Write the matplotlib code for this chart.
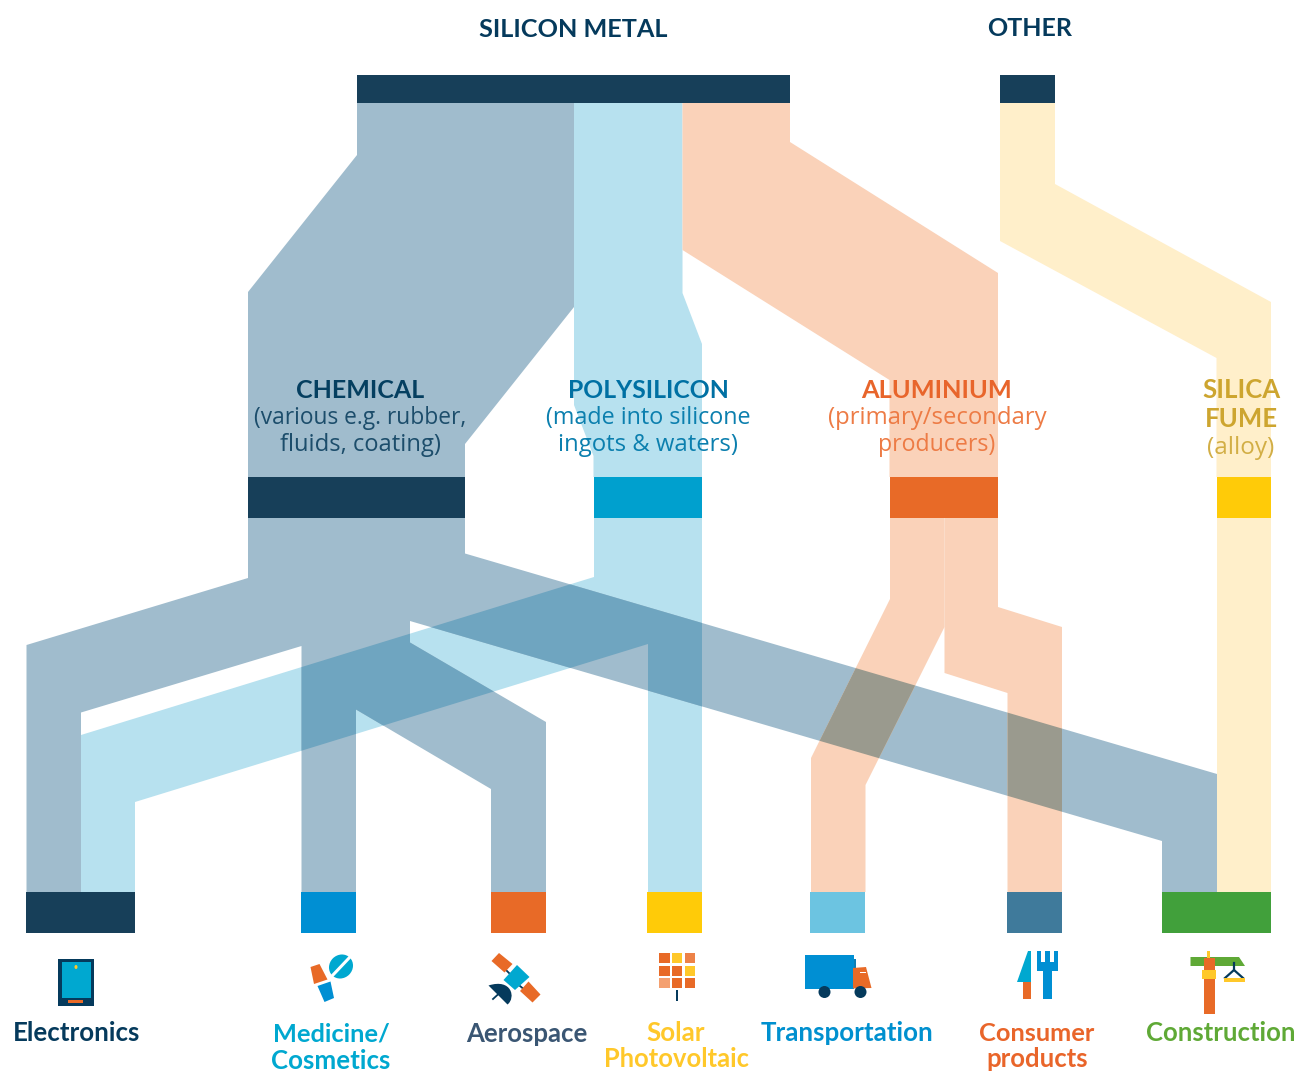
"""
Silicon flow diagram: sources, intermediate uses and end markets.
Bands are drawn in pixel coordinates on a full-figure axes, y pointing down.
"""

import matplotlib
matplotlib.use("Agg")
import matplotlib.pyplot as plt
from matplotlib.patches import Polygon, Rectangle, Circle, Ellipse, PathPatch
from matplotlib.path import Path

NAVY = "#173F59"
DARK = "#053A5C"
CYAN = "#00A8D0"
BLUE = "#008FD3"
ORANGE = "#E86A27"
YELLOW = "#FFC82A"
GREEN = "#5FA936"

# band colours
CHEM_BAND = "#A0BCCD"
POLY_BAND = "#B7E1EF"
ALU_BAND = "#FAD2B9"
FUME_BAND = "#FFEFCA"
CHEM_POLY = "#6FA5C0"
CHEM_ALU = "#9A9A8E"

# (left, right, colour) of each node, grouped by row
top_row = [(357, 790, NAVY), (1000, 1055, NAVY)]
mid_row = [(248, 465, NAVY), (593.5, 702, "#00A0CE"), (889.5, 998, ORANGE), (1216.5, 1271, "#FFCB08")]
end_row = [(26, 135, NAVY), (301, 356, "#008FD3"), (491, 546, ORANGE), (647, 702, "#FFCB08"),
           (810, 865, "#6CC4E1"), (1007, 1062, "#3F7A9B"), (1162, 1271, "#41A03B")]

# bands between the rows
chem_upper = [(357, 103), (574, 103), (574, 307), (465, 444), (465, 477), (248, 477), (248, 292), (357, 155)]
poly_upper = [(574, 103), (682.5, 103), (682.5, 293), (702, 344), (702, 477), (593.5, 477), (593.5, 456), (574, 405)]
alu_upper = [(682.5, 103), (790, 103), (790, 142), (998, 273), (998, 477), (889.5, 477), (889.5, 380), (682.5, 250)]
fume_upper = [(1000, 103), (1055, 103), (1055, 184), (1271, 302), (1271, 477), (1216.5, 477), (1216.5, 358), (1000, 241)]

chem_lower = [(248, 518), (465, 518), (465, 553.5), (1217, 774), (1217, 892), (1162, 892), (1162, 841),
              (410, 621), (410, 642.5), (546, 722), (546, 892), (491, 892), (491, 789), (356, 709.5),
              (356, 892), (301.5, 892), (301.5, 646), (81, 712.5), (81, 892), (26.5, 892), (26.5, 645), (248, 578)]
poly_lower = [(594, 518), (702, 518), (702, 892), (648, 892), (648, 644), (135, 802), (135, 892),
              (81, 892), (81, 735), (594, 577)]
alu_left = [(890, 518), (944.5, 518), (944.5, 627), (865.5, 785), (865.5, 892), (811, 892), (811, 758), (890, 599)]
alu_right = [(944.5, 518), (998, 518), (998, 607), (1062, 627), (1062, 892), (1007.5, 892), (1007.5, 693), (944.5, 673)]
fume_lower = [(1216.5, 518), (1271, 518), (1271, 892), (1216.5, 892)]

# (text, centre x, baseline y, size, colour)
HEAD_FONT = "Lato"
BODY_FONT = "Open Sans"
headings = [
    ("SILICON METAL", 573, 37, 18.2, DARK),
    ("OTHER", 1030, 36, 18, DARK),
    ("CHEMICAL", 360, 398, 18, "#053F60"),
    ("POLYSILICON", 648, 398, 17.8, "#0070A3"),
    ("ALUMINIUM", 937, 398, 18.3, "#E8652B"),
    ("SILICA", 1241, 398, 18.5, "#CDA52F"),
    ("FUME", 1241, 427, 18.5, "#CDA52F"),
]
notes = [
    ("(various e.g. rubber,", 360, 424, 16.4, "#1C4D6B"),
    ("fluids, coating)", 360, 451, 17.1, "#1C4D6B"),
    ("(made into silicone", 648, 424, 16.8, "#0B7FAE"),
    ("ingots & waters)", 648, 451, 17.2, "#0B7FAE"),
    ("(primary/secondary", 937, 424, 17.2, "#ED7B45"),
    ("producers)", 937, 451, 16.7, "#ED7B45"),
    ("(alloy)", 1241, 454, 17.5, "#D2AE45"),
]
end_labels = [
    ("Electronics", 77, 1041, 18.6, DARK),
    ("Medicine/", 331, 1042, 18.3, CYAN),
    ("Cosmetics", 331, 1069, 18.6, CYAN),
    ("Aerospace", 527, 1042, 18.5, "#3A5673"),
    ("Solar", 676, 1041, 18.6, YELLOW),
    ("Photovoltaic", 676, 1067, 18.4, YELLOW),
    ("Transportation", 847, 1041, 18.6, "#0090CF"),
    ("Consumer", 1037, 1041, 18.3, "#E9652A"),
    ("products", 1037, 1067, 18.5, "#E9652A"),
    ("Construction", 1221, 1041, 18.5, GREEN),
]


def band(ax, pts, color):
    patch = Polygon(pts, closed=True, facecolor=color, edgecolor="none", zorder=1)
    ax.add_patch(patch)
    return patch


def overlap(ax, pts, clip_patch, color):
    # the crossing of two bands is the band redrawn inside the other one
    patch = Polygon(pts, closed=True, facecolor=color, edgecolor="none", zorder=2)
    ax.add_patch(patch)
    patch.set_clip_path(clip_patch)


def nodes(ax, row, y0, y1):
    for left, right, color in row:
        ax.add_patch(Rectangle((left, y0), right - left, y1 - y0, facecolor=color, edgecolor="none", zorder=3))


def box(ax, x0, y0, x1, y1, color, z=5):
    ax.add_patch(Rectangle((x0, y0), x1 - x0, y1 - y0, facecolor=color, edgecolor="none", zorder=z))


def poly(ax, pts, color, z=5):
    ax.add_patch(Polygon(pts, closed=True, facecolor=color, edgecolor="none", zorder=z))


def draw_icons(ax):
    # tablet
    box(ax, 58, 959, 94, 1006, DARK)
    box(ax, 61.5, 962, 91, 998, CYAN)
    ax.add_patch(Ellipse((76, 967), 3, 4, facecolor=YELLOW, edgecolor="none", zorder=6))
    box(ax, 67.5, 1000, 83, 1002.5, ORANGE)

    # pill and capsule
    ax.add_patch(Ellipse((341, 966.5), 25, 23, angle=-45, facecolor=CYAN, edgecolor="none", zorder=5))
    ax.plot([332, 350], [976, 957], color="white", lw=2.2, zorder=6)
    poly(ax, [(310.5, 967), (319.5, 964), (327.5, 979.5), (314, 984)], ORANGE)
    poly(ax, [(317.5, 986), (330.5, 981.5), (334, 998), (324.5, 1002)], BLUE)

    # satellite
    poly(ax, [(491.5, 961), (499, 953), (512.5, 964), (504.5, 972.5)], ORANGE)
    poly(ax, [(503.5, 980), (517, 965), (529.5, 977), (515, 990)], CYAN)
    poly(ax, [(520, 991), (528.5, 981.5), (540.5, 994.5), (532.5, 1002.5)], ORANGE)
    ax.plot([505, 510], [969, 974], color=DARK, lw=1.3, zorder=4)
    ax.plot([520, 526], [986, 991], color=DARK, lw=1.3, zorder=4)
    ax.plot([493, 499], [999, 993.5], color=DARK, lw=1.3, zorder=4)
    dish = Path([(488.5, 985.5), (512, 978), (516, 998), (507.5, 1004.5), (488.5, 985.5)],
                [Path.MOVETO, Path.CURVE4, Path.CURVE4, Path.CURVE4, Path.CLOSEPOLY])
    ax.add_patch(PathPatch(dish, facecolor=DARK, edgecolor="none", zorder=5))

    # solar panel
    cell_x = [(659, 669.5), (672, 682), (684.5, 694.5)]
    cell_y = [(953, 963), (965.5, 975.5), (978, 988)]
    cell_colors = [[ORANGE, YELLOW, "#ED8248"], [ORANGE, ORANGE, YELLOW], ["#F4A070", ORANGE, ORANGE]]
    for r, (y0, y1) in enumerate(cell_y):
        for c, (x0, x1) in enumerate(cell_x):
            box(ax, x0, y0, x1, y1, cell_colors[r][c])
    box(ax, 675.5, 990, 678, 1001, DARK)

    # truck
    box(ax, 805, 955, 853.5, 988.5, BLUE)
    box(ax, 853.5, 959, 855.5, 968, "#0F7FB5")
    poly(ax, [(853, 968), (866, 967), (871.5, 988), (853, 988.5)], ORANGE)
    box(ax, 860, 972, 866, 973, "white", z=6)
    ax.add_patch(Circle((824.5, 992), 6, facecolor=DARK, edgecolor="none", zorder=6))
    ax.add_patch(Circle((860.5, 992), 6, facecolor=DARK, edgecolor="none", zorder=6))

    # knife and fork
    poly(ax, [(1027.5, 951), (1030.5, 951), (1030.5, 982), (1017, 982)], CYAN)
    box(ax, 1023, 982, 1030.5, 998.5, ORANGE)
    box(ax, 1037, 961.5, 1057.5, 971, BLUE)
    box(ax, 1037, 951, 1040.5, 962, BLUE)
    box(ax, 1044.5, 951, 1049.5, 962, BLUE)
    box(ax, 1053.5, 951, 1057.5, 962, BLUE)
    box(ax, 1042.5, 971, 1051.5, 998.5, BLUE)

    # crane
    poly(ax, [(1190.5, 957), (1239, 957), (1245, 966), (1190.5, 966)], GREEN)
    box(ax, 1203.5, 958, 1214.5, 1014, ORANGE, z=6)
    box(ax, 1206.5, 951, 1209.5, 958, YELLOW, z=6)
    box(ax, 1201.5, 970, 1215.5, 979, YELLOW, z=7)
    ax.plot([1234, 1234], [963, 970], color=DARK, lw=1.6, zorder=6)
    ax.plot([1225, 1234, 1243], [978, 970, 978], color=DARK, lw=1.6, zorder=6)
    box(ax, 1223.5, 977.5, 1244.5, 981.5, YELLOW, z=6)


fig = plt.figure(figsize=(13.03, 10.75), dpi=100)
ax = fig.add_axes([0, 0, 1, 1])
ax.set_xlim(0, 1303)
ax.set_ylim(1075, 0)
ax.axis("off")

band(ax, chem_upper, CHEM_BAND)
band(ax, poly_upper, POLY_BAND)
band(ax, alu_upper, ALU_BAND)
band(ax, fume_upper, FUME_BAND)

chem_patch = band(ax, chem_lower, CHEM_BAND)
poly_patch = band(ax, poly_lower, POLY_BAND)
alu_left_patch = band(ax, alu_left, ALU_BAND)
alu_right_patch = band(ax, alu_right, ALU_BAND)
band(ax, fume_lower, FUME_BAND)

# the chemical band only shows through at the crossings
chem_patch.set_zorder(1.5)
poly_patch.set_zorder(1)
overlap(ax, chem_lower, poly_patch, CHEM_POLY)
alu_left_patch.set_zorder(1.6)
alu_right_patch.set_zorder(1.6)
overlap(ax, chem_lower, alu_left_patch, CHEM_ALU)
overlap(ax, chem_lower, alu_right_patch, CHEM_ALU)

nodes(ax, top_row, 75, 103)
nodes(ax, mid_row, 477, 518)
nodes(ax, end_row, 892, 933)

draw_icons(ax)

for text, x, y, size, color in headings:
    ax.text(x, y, text, ha="center", va="baseline", fontsize=size, fontweight="bold",
            family=HEAD_FONT, color=color, zorder=8)
for text, x, y, size, color in notes:
    ax.text(x, y, text, ha="center", va="baseline", fontsize=size, family=BODY_FONT, color=color, zorder=8)
for text, x, y, size, color in end_labels:
    ax.text(x, y, text, ha="center", va="baseline", fontsize=size, fontweight="bold",
            family=HEAD_FONT, color=color, zorder=8)

fig.savefig("out.png", dpi=100)
plt.close(fig)
